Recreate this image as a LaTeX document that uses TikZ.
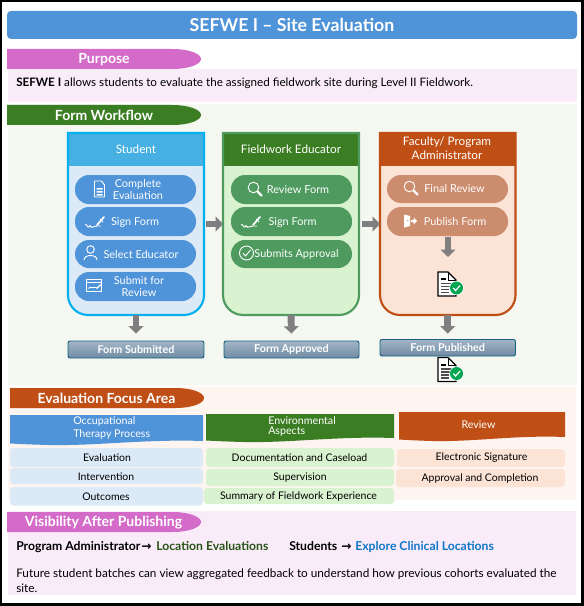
\documentclass[tikz,border=0pt]{standalone}
\usepackage{fontspec}
\setmainfont{Lato}
\newfontfamily\arrowfont{DejaVu Sans}
\usetikzlibrary{arrows.meta,calc}
\definecolor{cblue}{HTML}{4F93D8}
\definecolor{cpink}{HTML}{D56BC9}
\definecolor{cgreen}{HTML}{3B7D23}
\definecolor{corange}{HTML}{C04F15}
\definecolor{ccyan}{HTML}{00B0F0}
\definecolor{cheadb}{HTML}{45B0E1}
\definecolor{cbodyb}{HTML}{DCEAF7}
\definecolor{cbodyg}{HTML}{D9F2D0}
\definecolor{cbodyo}{HTML}{FBE3D6}
\definecolor{cpillg}{HTML}{4E9A5F}
\definecolor{cpillo}{HTML}{CC8C6E}
\definecolor{cbgpink}{HTML}{F9ECF8}
\definecolor{cbgflow}{HTML}{F4F8F1}
\definecolor{cbgeval}{HTML}{FEF4F0}
\definecolor{cgray}{HTML}{7F7F7F}
\definecolor{cbar}{HTML}{156082}
\definecolor{cbartop}{HTML}{A3B5C6}
\definecolor{cbarbot}{HTML}{6F8BA4}
\definecolor{ctextg}{HTML}{275317}
\definecolor{ctextb}{HTML}{0F75C9}
\definecolor{cok}{HTML}{00A651}
\newcommand\fs[1]{\fontsize{#1}{#1}\selectfont}
\newcommand\rbox[7]{\node[#6,inner sep=0pt,minimum width={(#4-#2)*0.75pt},minimum height={(#5-#3)*0.75pt}] (#1) at ({(#2+#4)/2},{(#3+#5)/2}) {#7};}
% banner with elliptical right end
\newcommand\banner[6]{\fill[#4] (7+#2,#1) -- (165+#2,#1) .. controls (183+#2,#1) and (194+#2,#1+5) .. (194+#2,#1+10) .. controls (194+#2,#1+15) and (183+#2,#1+20) .. (165+#2,#1+20) -- (#2,#1+20) -- (#2,#1) -- cycle;
  \node[bannertext] (#5) at (#3,#1+10.5) {#6};}
% column
\newcommand\col[7]{%
  \fill[#6,rounded corners=0pt] (#2,166) -- (#3,166) -- (#3,295) arc[start angle=0,end angle=90,radius=20] -- (#2+20,315) arc[start angle=90,end angle=180,radius=20] -- cycle;
  \fill[#5] (#2,133) rectangle (#3,166);
  \draw[#4,line width=1.6pt] (#2,133) -- (#3,133) -- (#3,295) arc[start angle=0,end angle=90,radius=20] -- (#2+20,315) arc[start angle=90,end angle=180,radius=20] -- cycle;
  \coordinate (#1) at ({(#2+#3)/2},224);
  \coordinate (#1 w) at (#2,224);
  \coordinate (#1 e) at (#3,224);
  \coordinate (#1 s) at ({(#2+#3)/2},315);}
% wavy header
\newcommand\wave[5]{\fill[#5] (#1,#2) -- (#3,#2) -- (#3,#4) .. controls ({#1+0.7*(#3-#1)},#4-2) and ({#1+0.45*(#3-#1)},#4+5) .. ({#1+0.2*(#3-#1)},#4+4) .. controls ({#1+0.1*(#3-#1)},#4+3.5) and ({#1+0.05*(#3-#1)},#4+3) .. (#1,#4+2.5) -- cycle;}
% icons
\newcommand\icdoc[2]{\begin{scope}[shift={(#1,#2)}]
  \draw[white,line width=0.7pt,line join=round] (-5,-8) -- (2,-8) -- (5,-4) -- (5,8) -- (-5,8) -- cycle;
  \fill[white] (-3,-1) rectangle (3,0.5) (-3,2) rectangle (3,3.5) (-3,5) rectangle (3,6.5);
  \end{scope}}
\newcommand\icmag[2]{\begin{scope}[shift={(#1,#2)}]
  \draw[white,line width=0.7pt] (-1.5,-1.5) circle[radius=5.3];
  \draw[white,line width=1.6pt,line cap=round] (2.5,2.5) -- (6.5,6.5);
  \end{scope}}
\newcommand\icsign[2]{\begin{scope}[shift={(#1,#2)}]
  \draw[white,line width=0.7pt] (-12,3) .. controls (-10,1) and (-10,6) .. (-8,5) .. controls (-7,1) and (-6,7) .. (-4,5) .. controls (-3,3) and (-2,6) .. (0,4) -- (4,4);
  \draw[white,line width=1.3pt,line cap=round] (0,3) -- (7,-5);
  \draw[white,line width=0.7pt] (3,-3) -- (6,0);
  \end{scope}}
\newcommand\icuser[2]{\begin{scope}[shift={(#1,#2)}]
  \draw[white,line width=0.7pt] (0,-3.5) circle[radius=3.8];
  \draw[white,line width=0.7pt] (-6.5,7) .. controls (-6.5,1) and (6.5,1) .. (6.5,7);
  \end{scope}}
\newcommand\icform[2]{\begin{scope}[shift={(#1,#2)}]
  \draw[white,line width=0.7pt] (-7.5,-6) rectangle (7.5,6);
  \draw[white,line width=0.7pt] (-7.5,-3.5) -- (7.5,-3.5);
  \draw[white,line width=0.7pt] (-5,3) .. controls (-3,0) and (-2,4) .. (0,2) -- (3,2);
  \draw[white,line width=1pt] (3,3) -- (7.5,-1);
  \end{scope}}
\newcommand\iccheck[2]{\begin{scope}[shift={(#1,#2)}]
  \draw[white,line width=0.7pt] (0,0) circle[radius=7];
  \draw[white,line width=0.7pt] (-3.5,0) -- (-1,3) -- (4,-3);
  \end{scope}}
\newcommand\icexit[2]{\begin{scope}[shift={(#1,#2)}]
  \fill[white] (-6,-6.5) -- (0,-5) -- (0,5) -- (-6,6.5) -- cycle;
  \fill[white] (1,-1) -- (3.5,-1) -- (3.5,-3.5) -- (7,0) -- (3.5,3.5) -- (3.5,1) -- (1,1) -- cycle;
  \fill[cpillo] (-2.2,-0.5) circle[radius=0.8];
  \end{scope}}
\newcommand\icpub[2]{\begin{scope}[shift={(#1,#2)}]
  \fill[white] (-9,-12) -- (1,-12) -- (9,-4) -- (9,12) -- (-9,12) -- cycle;
  \draw[black,line width=0.9pt,line join=miter] (-9,-12) -- (1,-12) -- (9,-4) -- (9,12) -- (-9,12) -- cycle;
  \draw[black,line width=0.7pt] (1,-12) -- (1,-4) -- (9,-4);
  \draw[black!70,line width=0.9pt] (-6.5,-0.5) -- (5,-0.5) (-6.5,2.5) -- (3,2.5) (-6.5,5.5) -- (2,5.5) (-6.5,8.5) -- (2,8.5);
  \fill[black] (-6.5,-6) rectangle (-1,-4);
  \fill[white] (9.5,4) circle[radius=7.2];
  \fill[cok] (9.5,4) circle[radius=6.5];
  \draw[white,line width=0.9pt] (6.3,4) -- (8.5,6.5) -- (13,1.7);
  \end{scope}}
\tikzset{
  bannertext/.style={font=\fs{10.5}\bfseries,text=white,inner sep=0pt},
  pill/.style={fill=#1,rounded corners=10.5pt},
  pilltext/.style={font=\fs{8.2},text=white,inner sep=0pt,align=center},
  coltitle/.style={font=\fs{8.8},text=white,inner sep=0pt,align=center},
  statusbar/.style={draw=cbar,line width=0.7pt,rounded corners=1.5pt,top color=cbartop,bottom color=cbarbot,text=white,font=\fs{8.1}\bfseries},
  fatarrow/.style={draw=cgray,line width=5.2pt,-{Triangle[width=11pt,length=5.5pt]},shorten >=0pt},
  cell/.style={fill=#1,rounded corners=2.5pt,text=black},
  celltext/.style={font=\fs{7.85},text=black,inner sep=0pt},
  headtext/.style={font=\fs{8},text=white,inner sep=0pt},
  plain/.style={font=\fs{8.75},text=black,inner sep=0pt,anchor=west},
  plainb/.style={font=\fs{9.15}\bfseries,text=black,inner sep=0pt,anchor=base west}
}
\begin{document}
\begin{tikzpicture}[x=0.75pt,y=-0.75pt]
\useasboundingbox (0,0) rectangle (584,606);
\fill[black] (0,0) rectangle (584,606);
\fill[white] (2,2) rectangle (581,603);
% title
\rbox{title}{7}{11}{577}{39}{fill=cblue,rounded corners=3pt,text=white,font=\fs{13.3}\bfseries}{SEFWE I – Site Evaluation}
% purpose
\fill[cbgpink] (8,69) rectangle (577,102);
\banner{49}{7}{104}{cpink}{purpose}{Purpose}
\node[plain] (ptext) at (16,83) {\textbf{SEFWE I} allows students to evaluate the assigned fieldwork site during Level II Fieldwork.};
% workflow
\fill[cbgflow] (8,104) rectangle (577,385);
\banner{105}{7}{104}{cgreen}{workflow}{Form Workflow}
\col{stu}{68}{204}{ccyan}{cheadb}{cbodyb}{}
\col{edu}{223}{359}{cpillg}{cgreen}{cbodyg}{}
\col{fac}{380}{515.5}{corange}{corange}{cbodyo}{}
\node[coltitle] (stut) at (136,149.5) {Student};
\node[coltitle] (edut) at (291,149.5) {Fieldwork Educator};
\node[coltitle] (fact) at (447,148.5) {Faculty/ Program\\[2pt]Administrator};
% student pills
\rbox{s1}{75}{175}{196}{204}{pill=cblue}{}
\rbox{s2}{75}{207}{196}{236}{pill=cblue}{}
\rbox{s3}{75}{240}{196}{268}{pill=cblue}{}
\rbox{s4}{75}{272}{196}{301}{pill=cblue}{}
\node[pilltext] (s1t) at (138,189.5) {Complete\\[1.5pt]Evaluation};
\node[pilltext] (s2t) at (135,222.5) {Sign Form};
\node[pilltext] (s3t) at (141,254.5) {Select Educator};
\node[pilltext] (s4t) at (139,286.5) {Submit for\\[1.5pt]Review};
\icdoc{99.5}{189}\icsign{97}{222}\icuser{90.5}{253}\icform{93.5}{285.5}
% educator pills
\rbox{e1}{231}{175}{352}{204}{pill=cpillg}{}
\rbox{e2}{231}{207}{352}{236}{pill=cpillg}{}
\rbox{e3}{231}{240}{352}{268}{pill=cpillg}{}
\node[pilltext] (e1t) at (298,189.5) {Review Form};
\node[pilltext] (e2t) at (292.5,222.5) {Sign Form};
\node[pilltext] (e3t) at (296.5,254) {Submits Approval};
\icmag{255}{189}\icsign{253}{222}\iccheck{246.5}{253}
% faculty pills
\rbox{f1}{387}{175}{508}{203}{pill=cpillo}{}
\rbox{f2}{387}{207}{508}{236}{pill=cpillo}{}
\node[pilltext] (f1t) at (454.5,188.5) {Final Review};
\node[pilltext] (f2t) at (455,222) {Publish Form};
\icmag{411}{188}\icexit{410}{221}
% status bars
\rbox{b1}{68}{341}{204}{358}{statusbar}{Form Submitted}
\rbox{b2}{224}{341}{359}{358}{statusbar}{Form Approved}
\rbox{b3}{380}{339.5}{515.5}{356}{statusbar}{Form Published}
% arrows
\coordinate (a1) at (206,224);
\coordinate (a2) at (362,224);
\coordinate (a3) at (448,237);
\coordinate (a4) at (448,257);
\draw[fatarrow] (a1) -- (edu w);
\draw[fatarrow] (a2) -- (fac w);
\draw[fatarrow] (stu s) -- ($(b1.north)+(0,-7)$);
\draw[fatarrow] (edu s) -- ($(b2.north)+(0,-7)$);
\draw[fatarrow] (fac s) -- ($(b3.north)+(0,-5.5)$);
\draw[fatarrow] (a3) -- (a4);
\icpub{447}{284}
\icpub{447}{369.5}
% evaluation
\fill[cbgeval] (8,387) rectangle (576,500);
\banner{388}{10}{106.5}{corange}{focus}{Evaluation Focus Area}
\wave{10}{415}{203}{441}{cblue}
\wave{206}{414}{394}{438}{cgreen}
\wave{399}{412}{565}{437}{corange}
\node[headtext,anchor=west] (h1a) at (73,421.5) {Occupational};
\node[headtext,anchor=west] (h1b) at (73,434) {Therapy Process};
\node[headtext,anchor=west] (h2a) at (268,420.5) {Environmental};
\node[headtext,anchor=west] (h2b) at (268,432) {Aspects};
\node[headtext] (h3) at (478.5,424.5) {Review};
\rbox{c11}{10}{448}{203}{467}{cell=cbodyb}{}
\rbox{c12}{10}{468}{203}{484}{cell=cbodyb}{}
\rbox{c13}{10}{487}{203}{505.5}{cell=cbodyb}{}
\rbox{c21}{206}{448}{394}{467}{cell=cbodyg}{}
\rbox{c22}{206}{469}{394}{486}{cell=cbodyg}{}
\rbox{c23}{204}{488}{394}{504}{cell=cbodyg}{}
\rbox{c31}{397}{449}{565}{467}{cell=cbodyo}{}
\rbox{c32}{396}{469}{565}{487}{cell=cbodyo}{}
\node[celltext] (t11) at (107,458) {Evaluation};
\node[celltext] (t12) at (106,477) {Intervention};
\node[celltext] (t13) at (106,497) {Outcomes};
\node[celltext] (t21) at (299.5,458) {Documentation and Caseload};
\node[celltext] (t22) at (300,478) {Supervision};
\node[celltext] (t23) at (298.5,497) {Summary of Fieldwork Experience};
\node[celltext] (t31) at (481.5,458) {Electronic Signature};
\node[celltext] (t32) at (480,478.5) {Approval and Completion};
% visibility
\fill[cbgpink] (8,511) rectangle (576,595);
\banner{512}{7}{103.5}{cpink}{vis}{Visibility After Publishing}
\node[plainb] (v1) at (16,550.5) {Program Administrator};
\node[plainb] (v1a) at (141,550.5) {\arrowfont\bfseries →};
\node[plainb,text=ctextg] (v1b) at (156,550.5) {Location Evaluations};
\node[plainb] (v2) at (289,550.5) {Students};
\node[plainb] (v2a) at (341,550.5) {\arrowfont\bfseries →};
\node[plainb,text=ctextb] (v2b) at (355,550.5) {Explore Clinical Locations};
\node[plain,font=\fs{8.82}] (v3) at (16,574) {Future student batches can view aggregated feedback to understand how previous cohorts evaluated the};
\node[plain,font=\fs{8.82}] (v4) at (16,588) {site.};
\end{tikzpicture}
\end{document}
